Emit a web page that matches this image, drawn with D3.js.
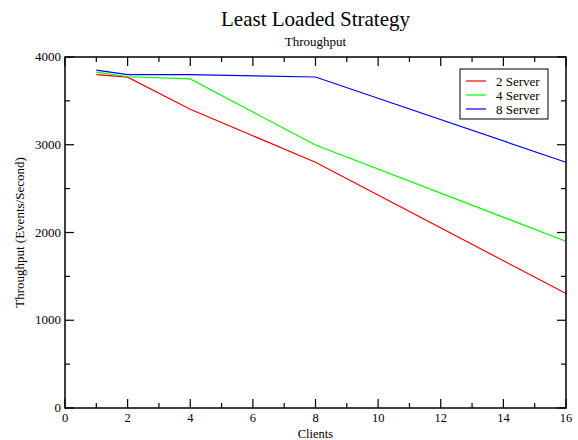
<!DOCTYPE html>
<html><head><meta charset="utf-8">
<script src="https://cdn.jsdelivr.net/npm/d3@7"></script>
<style>body{margin:0;background:#fff}svg{display:block}text{font-family:"Liberation Serif","DejaVu Serif",serif;fill:#000}</style>
</head><body><svg id="c" width="578" height="440"></svg>
<script>
const clients = [1, 2, 4, 8, 16];
const server2 = [3800, 3770, 3405, 2800, 1305];
const server4 = [3828, 3775, 3750, 2997, 1900];
const server8 = [3850, 3800, 3800, 3772, 2800];
const seriesNames = ["2 Server", "4 Server", "8 Server"];
const seriesColors = ["#ff0000", "#00ff00", "#0000ff"];
const xTicks = [0, 2, 4, 6, 8, 10, 12, 14, 16];
const yTicks = [0, 1000, 2000, 3000, 4000];

const svg = d3.select("#c");
const L = 65, R = 566, T = 57, B = 408;
const x = d3.scaleLinear().domain([0, 16]).range([L, R]);
const y = d3.scaleLinear().domain([0, 4000]).range([B, T]);

const series = [server2, server4, server8];
const line = d3.line().x((d, i) => x(clients[i])).y(d => y(d));
series.forEach((s, k) => {
  svg.append("path").datum(s).attr("d", line).attr("fill", "none")
    .attr("stroke", seriesColors[k]).attr("stroke-width", 1.2);
});

// frame
svg.append("rect").attr("x", L).attr("y", T).attr("width", R - L).attr("height", B - T)
  .attr("fill", "none").attr("stroke", "#000").attr("stroke-width", 1.5);

const major = 9, minor = 5;
const xMinor = d3.range(1, 16, 2);
const yMinor = d3.range(500, 4000, 1000);
const g = svg.append("g").attr("stroke", "#000").attr("stroke-width", 1.2);
xTicks.forEach(v => {
  g.append("line").attr("x1", x(v)).attr("x2", x(v)).attr("y1", B).attr("y2", B - major);
  g.append("line").attr("x1", x(v)).attr("x2", x(v)).attr("y1", T).attr("y2", T + major);
});
xMinor.forEach(v => {
  g.append("line").attr("x1", x(v)).attr("x2", x(v)).attr("y1", B).attr("y2", B - minor);
  g.append("line").attr("x1", x(v)).attr("x2", x(v)).attr("y1", T).attr("y2", T + minor);
});
yTicks.forEach(v => {
  g.append("line").attr("x1", L).attr("x2", L + major).attr("y1", y(v)).attr("y2", y(v));
  g.append("line").attr("x1", R).attr("x2", R - major).attr("y1", y(v)).attr("y2", y(v));
});
yMinor.forEach(v => {
  g.append("line").attr("x1", L).attr("x2", L + minor).attr("y1", y(v)).attr("y2", y(v));
  g.append("line").attr("x1", R).attr("x2", R - minor).attr("y1", y(v)).attr("y2", y(v));
});

xTicks.forEach(v => {
  svg.append("text").attr("x", x(v)).attr("y", B + 14).attr("text-anchor", "middle")
    .attr("font-size", 12.5).text(v);
});
yTicks.forEach(v => {
  svg.append("text").attr("x", L - 4).attr("y", y(v) + 4).attr("text-anchor", "end")
    .attr("font-size", 13).text(v);
});

svg.append("text").attr("x", (L + R) / 2).attr("y", 26).attr("text-anchor", "middle")
  .attr("font-size", 21).text("Least Loaded Strategy");
svg.append("text").attr("x", (L + R) / 2).attr("y", 46).attr("text-anchor", "middle")
  .attr("font-size", 13).text("Throughput");
svg.append("text").attr("x", (L + R) / 2).attr("y", 437.5).attr("text-anchor", "middle")
  .attr("font-size", 12.5).text("Clients");
svg.append("text").attr("transform", `translate(24,${(T + B) / 2}) rotate(-90)`)
  .attr("text-anchor", "middle").attr("font-size", 13).text("Throughput (Events/Second)");

// legend
const lg = svg.append("g");
lg.append("rect").attr("x", 460).attr("y", 69).attr("width", 88).attr("height", 50)
  .attr("fill", "#fff").attr("stroke", "#000").attr("stroke-width", 1);
seriesNames.forEach((n, i) => {
  const yy = 81 + i * 14;
  lg.append("line").attr("x1", 466).attr("x2", 486).attr("y1", yy).attr("y2", yy)
    .attr("stroke", seriesColors[i]).attr("stroke-width", 1.2);
  lg.append("text").attr("x", 496).attr("y", yy + 4.5).attr("font-size", 13).text(n);
});
</script></body></html>
